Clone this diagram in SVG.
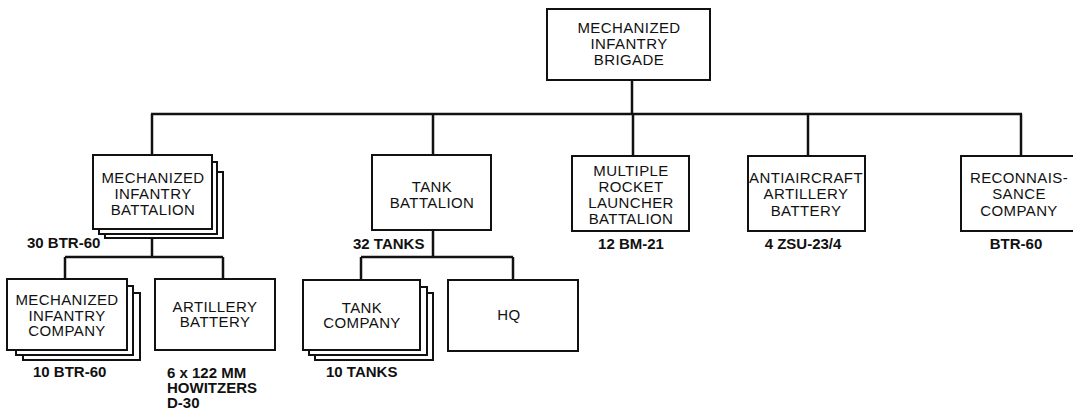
<svg xmlns="http://www.w3.org/2000/svg" width="1073" height="415" viewBox="0 0 1073 415">
<style>
.box{fill:#fff;stroke:#111;stroke-width:2}
.t{font-family:"Liberation Sans",Arial,sans-serif;font-size:15px;letter-spacing:0.4px;fill:#111;text-anchor:middle}
.lb{font-family:"Liberation Sans",Arial,sans-serif;font-size:15px;font-weight:bold;fill:#111}
.ln{fill:none;stroke:#111;stroke-width:2.5}
</style>
<rect width="1073" height="415" fill="#fff"/>
<g id="connectors">
<path class="ln" d="M632 80V114M151 114H1022M152 114V155M433 114V155M633 114V156M808 114V156M1021 114V156"/>
<path class="ln" d="M152 229V257M65 257H223M65 257V279M223 257V279"/>
<path class="ln" d="M433 230V257M361 257H513M361 257V280M513 257V280"/>
</g>
<g id="brigade">
<rect class="box" x="547" y="9" width="163" height="71"/>
<text class="t" x="629" y="33">MECHANIZED</text>
<text class="t" x="629" y="49">INFANTRY</text>
<text class="t" x="629" y="65">BRIGADE</text>
</g>
<g id="mech-inf-battalion">
<rect class="box" x="105" y="172" width="118" height="66"/>
<rect class="box" x="99" y="162" width="118" height="72"/>
<rect class="box" x="93" y="155" width="119" height="74"/>
<text class="t" x="153" y="183">MECHANIZED</text>
<text class="t" x="153" y="199">INFANTRY</text>
<text class="t" x="153" y="215">BATTALION</text>
<text class="lb" x="27" y="248">30 BTR-60</text>
</g>
<g id="tank-battalion">
<rect class="box" x="372" y="155" width="119" height="75"/>
<text class="t" x="432" y="192">TANK</text>
<text class="t" x="432" y="208">BATTALION</text>
<text class="lb" x="353" y="249">32 TANKS</text>
</g>
<g id="mrl-battalion">
<rect class="box" x="572" y="156" width="117" height="75"/>
<text class="t" x="631" y="176">MULTIPLE</text>
<text class="t" x="631" y="192">ROCKET</text>
<text class="t" x="631" y="208">LAUNCHER</text>
<text class="t" x="631" y="224">BATTALION</text>
<text class="lb" x="631" y="249" text-anchor="middle">12 BM-21</text>
</g>
<g id="aa-battery">
<rect class="box" x="748" y="156" width="117" height="75"/>
<text class="t" x="806" y="183">ANTIAIRCRAFT</text>
<text class="t" x="806" y="199">ARTILLERY</text>
<text class="t" x="806" y="216">BATTERY</text>
<text class="lb" x="803" y="249" text-anchor="middle">4 ZSU-23/4</text>
</g>
<g id="recon-company">
<rect class="box" x="961" y="156" width="120" height="75"/>
<text class="t" x="1019" y="183">RECONNAIS-</text>
<text class="t" x="1019" y="199">SANCE</text>
<text class="t" x="1019" y="216">COMPANY</text>
<text class="lb" x="1016" y="249" text-anchor="middle">BTR-60</text>
</g>
<g id="mech-inf-company">
<rect class="box" x="23" y="293" width="117" height="67"/>
<rect class="box" x="16" y="286" width="117" height="69"/>
<rect class="box" x="7" y="279" width="120" height="71"/>
<text class="t" x="67" y="305">MECHANIZED</text>
<text class="t" x="67" y="321">INFANTRY</text>
<text class="t" x="67" y="336">COMPANY</text>
<text class="lb" x="33" y="377">10 BTR-60</text>
</g>
<g id="artillery-battery">
<rect class="box" x="155" y="279" width="120" height="71"/>
<text class="t" x="215" y="312">ARTILLERY</text>
<text class="t" x="215" y="327">BATTERY</text>
<text class="lb" x="167" y="378">6 x 122 MM</text>
<text class="lb" x="167" y="393">HOWITZERS</text>
<text class="lb" x="167" y="408">D-30</text>
</g>
<g id="tank-company">
<rect class="box" x="315" y="293" width="118" height="67"/>
<rect class="box" x="309" y="287" width="118" height="68"/>
<rect class="box" x="303" y="280" width="117" height="70"/>
<text class="t" x="362" y="313">TANK</text>
<text class="t" x="362" y="328">COMPANY</text>
<text class="lb" x="326" y="377">10 TANKS</text>
</g>
<g id="hq">
<rect class="box" x="448" y="280" width="130" height="71"/>
<text class="t" x="509" y="320">HQ</text>
</g>
</svg>
